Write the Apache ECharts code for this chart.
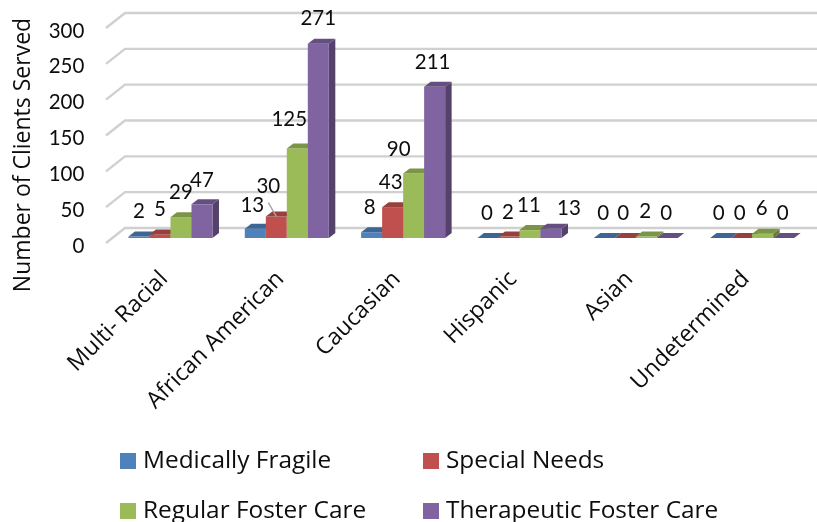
<!DOCTYPE html>
<html><head><meta charset="utf-8">
<style>html,body{margin:0;padding:0;background:#fff}#c{width:817px;height:522px}</style>
<script src="https://cdn.jsdelivr.net/npm/echarts@6/dist/echarts.min.js"></script>
</head><body><div id="c"></div>
<script>
const categories = ['Multi- Racial','African American','Caucasian','Hispanic','Asian','Undetermined'];
const medicallyFragile = [2,13,8,0,0,0];
const specialNeeds = [5,30,43,2,0,0];
const regularFosterCare = [29,125,90,11,2,6];
const therapeuticFosterCare = [47,271,211,13,0,0];
const yTicks = [0,50,100,150,200,250,300];
const seriesNames = ['Medically Fragile','Special Needs','Regular Foster Care','Therapeutic Foster Care'];

// style: [front, top, side]
const faceColors = [
  ['#4F81BD','#3D6696','#33557E'],
  ['#C0504D','#98403D','#7F3533'],
  ['#9BBB59','#7B9546','#677C3B'],
  ['#8064A2','#654F81','#54426B']
];
// manual label nudges from the default spot above each bar (one row per series)
const labelDx = [[0,-3,-2,-1,-1,-2],[0,-8,-2,-1,-2,-2],[0,-8,-15,-1,-1,-1],[0,0,-2,18,-1,-1]];
const labelDy = [[0,2,0,0,0,0],[0,-5,0,1,0,0],[0,-4,1,0,0,0],[1,0,1,5,0,0]];
const FONT = 'Open Sans', NUMFONT = 'Lato', INK = '#0d0d0d';
const LEG = 24.4, NAME = 23, NUM = 20.5, CAT = 23;
const BAR_FRAC = 21/116.3, DX = 6.5, DY = 5;
const LABEL_RISE = 25;
const legendPos = [[120,449],[423,449],[120,499],[423,499]];

function barRenderer(s){
  return function(params, api){
    const k = api.value(0), v = api.value(1);
    const p = api.coord([k, v]), base = api.coord([k, 0]);
    const band = api.size([1,0])[0], w = band*BAR_FRAC;
    const x = p[0] - 2*w + s*w, y = p[1], y0 = base[1];
    const c = faceColors[s];
    const kids = [];
    kids.push({type:'polygon',shape:{points:[[x+w,y],[x+w+DX,y-DY],[x+w+DX,y0-DY],[x+w,y0]]},style:{fill:c[2]}});
    kids.push({type:'rect',shape:{x:x,y:y,width:w,height:y0-y},style:{fill:c[0]}});
    kids.push({type:'polygon',shape:{points:[[x,y],[x+DX,y-DY],[x+w+DX,y-DY],[x+w,y]]},style:{fill:c[1]}});
    const lx = x+w/2+labelDx[s][k], ly = y-LABEL_RISE+labelDy[s][k];
    kids.push({type:'text',z2:100,style:{x:lx,y:ly,text:String(v),fill:INK,font:NUM+'px '+NUMFONT,align:'center',verticalAlign:'middle'}});
    if (s===1 && k===1) {
      kids.push({type:'line',z2:99,shape:{x1:x+w/2-8,y1:y-14,x2:x+w/2,y2:y},style:{stroke:'#a6a6a6',lineWidth:1.5}});
    }
    return {type:'group',children:kids};
  };
}
function gridRenderer(params, api){
  const p = api.coord([0, api.value(0)]);
  const cs = params.coordSys, y = p[1], x = cs.x;
  return {type:'polyline',shape:{points:[[x-6.3,y+5],[x+12.7,y-10],[x+12.7+cs.width,y-10]]},
    style:{stroke:'#d0d0d0',lineWidth:2.4,fill:null}};
}
const vals = [medicallyFragile,specialNeeds,regularFosterCare,therapeuticFosterCare];
const chart = echarts.init(document.getElementById('c'),null,{renderer:'canvas'});
chart.setOption({
  animation:false,
  backgroundColor:'#fff',
  textStyle:{fontFamily:FONT},
  grid:{left:112.3,width:698,top:23,height:215,containLabel:false,outerBoundsMode:'none'},
  xAxis:{type:'category',data:categories,axisLine:{show:false},axisTick:{show:false},
    axisLabel:{rotate:45,margin:31,padding:[0,9,0,0],interval:0,fontFamily:FONT,fontSize:CAT,color:INK}},
  yAxis:{type:'value',min:0,max:300,interval:50,splitLine:{show:false},axisLine:{show:false},axisTick:{show:false},
    name:'Number of Clients Served',nameLocation:'middle',nameGap:77,nameRotate:90,
    nameTextStyle:{fontFamily:FONT,fontSize:NAME,color:INK,padding:[0,49,0,0]},
    axisLabel:{margin:28,verticalAlign:'top',lineHeight:16,fontFamily:NUMFONT,fontSize:NUM,color:INK}},
  legend:seriesNames.map((n,i)=>({
    data:[n],left:legendPos[i][0],top:legendPos[i][1],padding:0,itemWidth:16,itemHeight:16,itemGap:0,icon:'rect',
    textStyle:{fontFamily:FONT,fontSize:LEG,color:INK,padding:[0,0,0,2]},itemStyle:{borderWidth:0},selectedMode:false})),
  series:[
    {type:'custom',name:'gridlines',silent:true,z:1,data:yTicks.map(v=>[v]),encode:{y:0},renderItem:gridRenderer,clip:false}
  ].concat(seriesNames.map((n,s)=>({
    type:'custom',name:n,z:2+s,clip:false,
    itemStyle:{color:faceColors[s][0]},
    encode:{x:0,y:1},
    data:vals[s].map((v,k)=>[k,v]),
    renderItem:barRenderer(s)
  })))
});
</script></body></html>
